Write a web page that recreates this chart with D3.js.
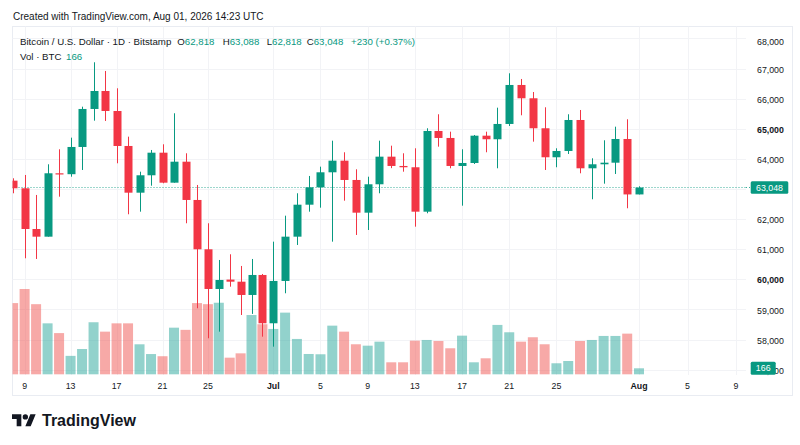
<!DOCTYPE html>
<html><head><meta charset="utf-8">
<script src="https://cdn.jsdelivr.net/npm/d3@7"></script>
<style>
html,body{margin:0;padding:0;background:#fff;}
svg{display:block;font-family:"Liberation Sans",Arial,Helvetica,sans-serif;}
</style>
</head><body>
<svg id="chart" width="800" height="445"></svg>
<script>
// ---------- DATA (Bitstamp BTC/USD, 1D, Jun 8 – Aug 1) ----------
const days = ["Jun 8","Jun 9","Jun 10","Jun 11","Jun 12","Jun 13","Jun 14","Jun 15","Jun 16","Jun 17",
  "Jun 18","Jun 19","Jun 20","Jun 21","Jun 22","Jun 23","Jun 24","Jun 25","Jun 26","Jun 27","Jun 28",
  "Jun 29","Jun 30","Jul 1","Jul 2","Jul 3","Jul 4","Jul 5","Jul 6","Jul 7","Jul 8","Jul 9","Jul 10",
  "Jul 11","Jul 12","Jul 13","Jul 14","Jul 15","Jul 16","Jul 17","Jul 18","Jul 19","Jul 20","Jul 21",
  "Jul 22","Jul 23","Jul 24","Jul 25","Jul 26","Jul 27","Jul 28","Jul 29","Jul 30","Jul 31","Aug 1"];
const openP  = [63275,63022,61670,61415,63520,63490,64394,65656,66253,65589,64427,62876,63454,64204,63208,63905,62634,60996,59678,59990,59920,59479,60143,58539,59944,61415,62477,63055,63553,63939,63298,62212,63155,64072,63763,63720,62245,64925,64693,63763,63862,64769,64650,65158,66453,66011,65015,64052,64261,65290,63686,63819,63872,64659,62818];
const highP  = [63354,63464,62800,63819,64317,64703,65732,67207,66918,66343,64736,63573,64294,64483,65513,64184,63132,61860,60641,60830,60442,60674,60176,61249,62112,62856,63431,63740,64603,64218,63653,63407,64603,64437,64184,64350,65015,65480,64902,64317,64792,64902,65699,66841,66652,66220,65712,64350,65480,65622,64018,64616,65068,65314,63088];
const lowP   = [62856,60697,60674,61415,62743,63407,63630,65267,65257,63852,62159,62245,63108,63188,63208,61860,59037,58041,58260,59754,58814,58850,58094,57762,59535,61139,62245,62378,61249,62610,61471,61637,62856,63690,63573,61747,62192,64404,63686,62444,63829,64218,63686,65091,65446,64570,63630,63720,64161,63520,62657,63175,63497,62358,62818];
const closeP = [63022,61670,61415,63520,63490,64394,65656,66253,65589,64427,62876,63454,64204,63208,63905,62634,60996,59678,59977,59920,59479,60143,58539,59944,61415,62477,63055,63553,63939,63298,62212,63155,64072,63763,63720,62245,64925,64693,63763,63862,64769,64650,65158,66453,66011,65015,64052,64261,65290,63686,63819,63872,64659,62818,63048];
const volume = [1970,2360,1940,1410,1140,510,700,1440,1180,1410,1410,830,560,500,1290,1230,1970,1940,1980,460,580,1640,1385,1255,1706,978,562,554,1346,1180,831,792,903,332,332,931,950,922,720,1069,332,443,1366,1163,903,1025,831,305,368,922,950,1061,1061,1125,166];
const priceTicks = [57000,58000,59000,60000,61000,62000,63000,64000,65000,66000,67000,68000];
const timeTickIdx = [1,5,9,13,17,23,27,31,35,39,43,47,54,58,62];
const timeTickLabels = ["9","13","17","21","25","Jul","5","9","13","17","21","25","Aug","5","9"];
const lastPrice = 63048, lastVolume = 166;

// ---------- LAYOUT ----------
const svg = d3.select("#chart");
const W = 800, H = 445;
const pane = {left: 12.5, right: 746, top: 26.5, bottom: 375};
const frame = {left: 12.5, right: 792.5, top: 26.5, bottom: 395.5};
const UP = "#089981", DOWN = "#F23645";
const UPV = "rgba(38,166,154,0.5)", DOWNV = "rgba(239,83,80,0.5)";
const TXT = "#131722";

// index scale (bar spacing as seen in the reference)
const x = d3.scaleLinear().domain([0,16,23,54,62]).range([13.1,197,273.3,639,736]);
const y = d3.scaleLinear().domain([58000,67000]).range([339.5,68.5]);
const yv = d3.scaleLinear().domain([0, d3.max(volume)]).range([374.3, 289]);

svg.append("rect").attr("width",W).attr("height",H).attr("fill","#fff");

// header
svg.append("text").attr("x",13).attr("y",20.3).attr("font-size",10).attr("fill",TXT)
  .text("Created with TradingView.com, Aug 01, 2026 14:23 UTC");

// frame
svg.append("rect").attr("x",frame.left).attr("y",frame.top)
  .attr("width",frame.right-frame.left).attr("height",frame.bottom-frame.top)
  .attr("fill","none").attr("stroke","#E9ECF2").attr("stroke-width",1);

// grid
const grid = svg.append("g");
grid.selectAll("line.h").data(priceTicks).join("line")
  .attr("x1",pane.left).attr("x2",pane.right)
  .attr("y1",d=>Math.round(y(d))+0.5).attr("y2",d=>Math.round(y(d))+0.5)
  .attr("stroke","#F2F3F6").attr("stroke-width",1);
grid.selectAll("line.v").data(timeTickIdx).join("line")
  .attr("x1",d=>Math.round(x(d))+0.5).attr("x2",d=>Math.round(x(d))+0.5)
  .attr("y1",pane.top).attr("y2",pane.bottom)
  .attr("stroke","#F2F3F6").attr("stroke-width",1);

// clip
svg.append("clipPath").attr("id","paneClip").append("rect")
  .attr("x",pane.left).attr("y",pane.top).attr("width",pane.right-pane.left).attr("height",pane.bottom-pane.top);
const plot = svg.append("g").attr("clip-path","url(#paneClip)");

const idx = d3.range(closeP.length);

// volume
plot.append("g").selectAll("rect").data(idx).join("rect")
  .attr("x",i=>x(i)-5).attr("width",10)
  .attr("y",i=>yv(volume[i])).attr("height",i=>yv(0)-yv(volume[i]))
  .attr("fill",i=>closeP[i]>=openP[i]?UPV:DOWNV);

// last price dotted line
plot.append("line").attr("x1",pane.left).attr("x2",pane.right+50)
  .attr("y1",y(lastPrice)).attr("y2",y(lastPrice))
  .attr("stroke",UP).attr("stroke-width",1).attr("stroke-dasharray","1,2").attr("opacity",0.8);

// candles
const cg = plot.append("g");
cg.selectAll("line").data(idx).join("line")
  .attr("x1",i=>Math.round(x(i))+0.5).attr("x2",i=>Math.round(x(i))+0.5)
  .attr("y1",i=>y(highP[i])).attr("y2",i=>y(lowP[i]))
  .attr("stroke",i=>closeP[i]>=openP[i]?UP:DOWN).attr("stroke-width",1);
cg.selectAll("rect").data(idx).join("rect")
  .attr("x",i=>Math.round(x(i))+0.5-4).attr("width",8)
  .attr("y",i=>y(Math.max(openP[i],closeP[i])))
  .attr("height",i=>Math.max(1.2, Math.abs(y(openP[i])-y(closeP[i]))))
  .attr("fill",i=>closeP[i]>=openP[i]?UP:DOWN);

// last price line continues across the price scale area
svg.append("line").attr("x1",pane.right).attr("x2",751)
  .attr("y1",y(lastPrice)).attr("y2",y(lastPrice))
  .attr("stroke",UP).attr("stroke-width",1).attr("stroke-dasharray","1,2").attr("opacity",0.8);

// price axis labels (labels hidden behind the last-price tag are skipped, as in the reference)
const fmt = d3.format(",");
svg.append("g").selectAll("text")
  .data(priceTicks.filter(d=>Math.abs(y(d)-y(lastPrice))>10)).join("text")
  .attr("x",757).attr("y",d=>Math.max(45, y(d)+4.2))
  .attr("font-size",8.8).attr("fill",TXT)
  .attr("font-weight",d=>d%5000===0?"bold":"normal")
  .text(d=>fmt(d));

// last price label
svg.append("rect").attr("x",750.7).attr("y",y(lastPrice)-6.2).attr("width",37.6).attr("height",12.4)
  .attr("rx",1.5).attr("fill",UP);
svg.append("text").attr("x",769.5).attr("y",y(lastPrice)+3.1).attr("text-anchor","middle")
  .attr("font-size",8.8).attr("fill","#fff").text(fmt(lastPrice));

// last volume label
svg.append("rect").attr("x",750.7).attr("y",yv(lastVolume)-6.5).attr("width",25).attr("height",13)
  .attr("rx",1.5).attr("fill",UP);
svg.append("text").attr("x",763.2).attr("y",yv(lastVolume)+3.1).attr("text-anchor","middle")
  .attr("font-size",8.8).attr("fill","#fff").text(lastVolume);

// time axis labels
svg.append("g").selectAll("text").data(timeTickIdx).join("text")
  .attr("x",d=>x(d)).attr("y",389).attr("text-anchor","middle")
  .attr("font-size",8.8).attr("fill",TXT)
  .attr("font-weight",(d,i)=>/^[A-Z]/.test(timeTickLabels[i])?"bold":"normal")
  .text((d,i)=>timeTickLabels[i]);

// legend
const lg = svg.append("g").attr("font-size",9.7);
lg.append("text").attr("x",20).attr("y",45.3).attr("fill",TXT).text("Bitcoin / U.S. Dollar · 1D · Bitstamp");
const ohlc = [["O",openP[54],177.3],["H",highP[54],222.7],["L",lowP[54],266.7],["C",closeP[54],306.7]];
ohlc.forEach(([k,v,px])=>{
  const t = lg.append("text").attr("x",px).attr("y",45.3).attr("fill",TXT);
  t.append("tspan").text(k);
  t.append("tspan").attr("fill",UP).text(fmt(v));
});
const chg = closeP[54]-closeP[53];
lg.append("text").attr("x",351).attr("y",45.3).attr("fill",UP)
  .text("+" + chg + " (+" + (chg/closeP[53]*100).toFixed(2) + "%)");
lg.append("text").attr("x",20).attr("y",60.3).attr("fill",TXT).text("Vol · BTC");
lg.append("text").attr("x",66).attr("y",60.3).attr("fill",UP).text(lastVolume);

// TradingView logo
const logo = svg.append("g").attr("transform","translate(12,411.6) scale(0.667)").attr("fill",TXT);
logo.append("path").attr("d","M14 22H7V11H0V4h14v18zM28 22h-8l7.5-18h8L28 22z");
logo.append("circle").attr("cx",20).attr("cy",8).attr("r",4);
svg.append("text").attr("x",42).attr("y",425.8).attr("font-size",16).attr("font-weight","bold")
  .attr("fill",TXT).text("TradingView");
</script>
</body></html>
